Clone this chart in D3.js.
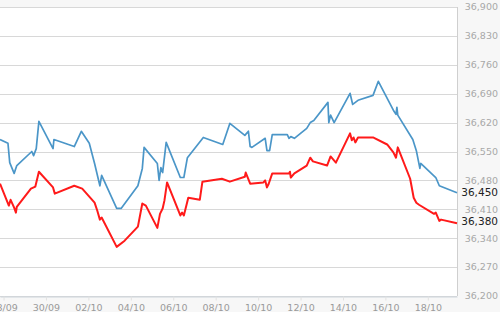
<!DOCTYPE html>
<html>
<head>
<meta charset="utf-8">
<script src="https://cdn.jsdelivr.net/npm/d3@7"></script>
<style>
  html, body { margin: 0; padding: 0; background: #f7f7f7; }
  svg { display: block; }
</style>
</head>
<body>
<div id="vis"></div>
<script>
// blue series (time, value)
const blueSeries = [
  ["2019-09-27 20:00", 36579], ["2019-09-28 05:00", 36570], ["2019-09-28 07:00", 36523],
  ["2019-09-28 12:00", 36497], ["2019-09-28 15:00", 36516], ["2019-09-29 08:00", 36550],
  ["2019-09-29 10:00", 36540], ["2019-09-29 13:00", 36557], ["2019-09-29 16:00", 36623],
  ["2019-09-30 08:00", 36557], ["2019-09-30 09:00", 36579], ["2019-10-01 08:00", 36562],
  ["2019-10-01 16:00", 36599], ["2019-10-02 01:00", 36570], ["2019-10-02 07:00", 36521],
  ["2019-10-02 13:00", 36467], ["2019-10-02 15:00", 36492], ["2019-10-03 08:00", 36412],
  ["2019-10-03 13:00", 36412], ["2019-10-04 08:00", 36467], ["2019-10-04 13:00", 36509],
  ["2019-10-04 15:00", 36560], ["2019-10-05 06:00", 36521], ["2019-10-05 08:00", 36480],
  ["2019-10-05 10:00", 36511], ["2019-10-05 12:00", 36499], ["2019-10-05 16:00", 36572],
  ["2019-10-06 08:00", 36487], ["2019-10-06 12:00", 36487], ["2019-10-06 16:00", 36535],
  ["2019-10-07 10:00", 36584], ["2019-10-08 08:00", 36567], ["2019-10-08 16:00", 36618],
  ["2019-10-09 09:00", 36589], ["2019-10-09 13:00", 36599], ["2019-10-09 15:00", 36562],
  ["2019-10-09 17:00", 36560], ["2019-10-10 08:00", 36582], ["2019-10-10 10:00", 36552],
  ["2019-10-10 13:00", 36552], ["2019-10-10 16:00", 36591], ["2019-10-11 09:00", 36591],
  ["2019-10-11 11:00", 36582], ["2019-10-11 13:00", 36586], ["2019-10-11 17:00", 36582],
  ["2019-10-12 07:00", 36606], ["2019-10-12 11:00", 36620], ["2019-10-12 15:00", 36625],
  ["2019-10-13 07:00", 36669], ["2019-10-13 08:00", 36620], ["2019-10-13 10:00", 36638],
  ["2019-10-13 14:00", 36620], ["2019-10-14 08:00", 36691], ["2019-10-14 11:00", 36664],
  ["2019-10-14 17:00", 36674], ["2019-10-15 10:00", 36686], ["2019-10-15 16:00", 36720],
  ["2019-10-16 09:00", 36650], ["2019-10-16 12:00", 36640], ["2019-10-16 13:00", 36657],
  ["2019-10-16 14:00", 36638], ["2019-10-17 07:00", 36579], ["2019-10-17 11:00", 36552],
  ["2019-10-17 15:00", 36509], ["2019-10-17 16:00", 36521], ["2019-10-18 09:00", 36487],
  ["2019-10-18 13:00", 36467], ["2019-10-19 09:00", 36450]
];

// red series (time, value)
const redSeries = [
  ["2019-09-27 20:00", 36472], ["2019-09-28 06:00", 36419], ["2019-09-28 08:00", 36433],
  ["2019-09-28 12:00", 36414], ["2019-09-28 14:00", 36402], ["2019-09-28 15:00", 36416],
  ["2019-09-29 07:00", 36460], ["2019-09-29 12:00", 36465], ["2019-09-29 16:00", 36501],
  ["2019-09-30 08:00", 36463], ["2019-09-30 10:00", 36448], ["2019-10-01 08:00", 36467],
  ["2019-10-01 17:00", 36460], ["2019-10-02 07:00", 36426], ["2019-10-02 10:00", 36407],
  ["2019-10-02 13:00", 36385], ["2019-10-02 15:00", 36390], ["2019-10-03 08:00", 36319],
  ["2019-10-03 17:00", 36334], ["2019-10-04 08:00", 36368], ["2019-10-04 13:00", 36424],
  ["2019-10-04 17:00", 36419], ["2019-10-05 06:00", 36365], ["2019-10-05 09:00", 36399],
  ["2019-10-05 12:00", 36412], ["2019-10-05 14:00", 36431], ["2019-10-05 17:00", 36475],
  ["2019-10-06 08:00", 36395], ["2019-10-06 10:00", 36402], ["2019-10-06 12:00", 36395],
  ["2019-10-06 17:00", 36438], ["2019-10-07 06:00", 36433], ["2019-10-07 09:00", 36477],
  ["2019-10-08 07:00", 36484], ["2019-10-08 16:00", 36477], ["2019-10-09 09:00", 36489],
  ["2019-10-09 10:00", 36499], ["2019-10-09 15:00", 36472], ["2019-10-10 06:00", 36475],
  ["2019-10-10 08:00", 36480], ["2019-10-10 10:00", 36463], ["2019-10-10 12:00", 36472],
  ["2019-10-10 16:00", 36497], ["2019-10-11 11:00", 36497], ["2019-10-11 12:00", 36501],
  ["2019-10-11 13:00", 36487], ["2019-10-11 17:00", 36497], ["2019-10-12 07:00", 36516],
  ["2019-10-12 11:00", 36535], ["2019-10-12 14:00", 36526], ["2019-10-13 06:00", 36516],
  ["2019-10-13 10:00", 36538], ["2019-10-13 16:00", 36523], ["2019-10-14 08:00", 36594],
  ["2019-10-14 10:00", 36577], ["2019-10-14 12:00", 36584], ["2019-10-14 14:00", 36572],
  ["2019-10-14 17:00", 36584], ["2019-10-15 10:00", 36584], ["2019-10-16 02:00", 36567],
  ["2019-10-16 09:00", 36548], ["2019-10-16 12:00", 36535], ["2019-10-16 14:00", 36560],
  ["2019-10-17 04:00", 36484], ["2019-10-17 08:00", 36438], ["2019-10-17 11:00", 36426],
  ["2019-10-17 14:00", 36421], ["2019-10-18 07:00", 36399], ["2019-10-18 09:00", 36402],
  ["2019-10-18 13:00", 36382], ["2019-10-18 15:00", 36385], ["2019-10-19 09:00", 36376]
];

const xTickDates = ["2019-09-28", "2019-09-30", "2019-10-02", "2019-10-04", "2019-10-06", "2019-10-08",
  "2019-10-10", "2019-10-12", "2019-10-14", "2019-10-16", "2019-10-18"];
const yTicks = [36200, 36270, 36340, 36410, 36480, 36550, 36620, 36690, 36760, 36830, 36900];
const currentPrices = [36450, 36380];
const seriesColors = ["#4b96c8", "#ff1a1a"];

const W = 500, H = 312;
const plot = { left: -2, right: 457, top: 7, bottom: 296 };

const parse = d3.timeParse("%Y-%m-%d %H:%M");
const parseDay = d3.timeParse("%Y-%m-%d");
const blue = blueSeries.map(d => ({ t: parse(d[0]), v: d[1] }));
const red = redSeries.map(d => ({ t: parse(d[0]), v: d[1] }));

const x = d3.scaleTime()
  .domain(d3.extent(blue.concat(red), d => d.t))
  .range([0, plot.right]);
const y = d3.scaleLinear()
  .domain([yTicks[0], yTicks[yTicks.length - 1]])
  .range([plot.bottom, plot.top]);

const svg = d3.select("#vis").append("svg")
  .attr("width", W).attr("height", H)
  .style("font-family", "'DejaVu Sans', Verdana, sans-serif");

svg.append("rect")
  .attr("x", plot.left).attr("y", plot.top)
  .attr("width", plot.right - plot.left).attr("height", plot.bottom - plot.top)
  .attr("fill", "#fff");

// horizontal grid
svg.append("g")
  .selectAll("line")
  .data(yTicks)
  .join("line")
  .attr("x1", plot.left).attr("x2", plot.right)
  .attr("y1", d => Math.round(y(d)) + 0.5).attr("y2", d => Math.round(y(d)) + 0.5)
  .attr("stroke", "#d8d8d8");

// right border
svg.append("line")
  .attr("x1", plot.right + 0.5).attr("x2", plot.right + 0.5)
  .attr("y1", plot.top).attr("y2", plot.bottom)
  .attr("stroke", "#cfcfcf");

// x axis
const xAxis = d3.axisBottom(x)
  .tickValues(xTickDates.map(parseDay))
  .tickFormat(d3.timeFormat("%d/%m"))
  .tickSize(4)
  .tickSizeOuter(0)
  .tickPadding(4);

const gx = svg.append("g")
  .attr("transform", `translate(0,${Math.round(plot.bottom) + 0.5})`)
  .call(xAxis);
gx.select(".domain").attr("stroke", "#cdd5dc");
gx.selectAll(".tick line").attr("stroke", "#e2e2e2");
gx.selectAll(".tick text")
  .attr("fill", "#9a9a9a")
  .style("font-size", "9.5px")
  .style("font-family", "'DejaVu Sans', Verdana, sans-serif");

// y labels on the right
svg.append("g")
  .selectAll("text")
  .data(yTicks)
  .join("text")
  .attr("x", 498)
  .attr("y", d => y(d))
  .attr("dy", "0.35em")
  .attr("text-anchor", "end")
  .attr("fill", "#a8a8a8")
  .style("font-size", "9.5px")
  .text(d => d3.format(",")(d));

const line = d3.line()
  .x(d => x(d.t))
  .y(d => y(d.v));

[blue, red].forEach((s, i) => {
  svg.append("path")
    .datum(s)
    .attr("fill", "none")
    .attr("stroke", seriesColors[i])
    .attr("stroke-width", i === 0 ? 1.7 : 2)
    .attr("stroke-linejoin", "round")
    .attr("d", line);
});

// current price labels
svg.append("g")
  .selectAll("text")
  .data(currentPrices)
  .join("text")
  .attr("x", 498)
  .attr("y", d => y(d))
  .attr("dy", "0.35em")
  .attr("text-anchor", "end")
  .attr("fill", "#222")
  .style("font-size", "10.5px")
  .text(d => d3.format(",")(d));
</script>
</body>
</html>
